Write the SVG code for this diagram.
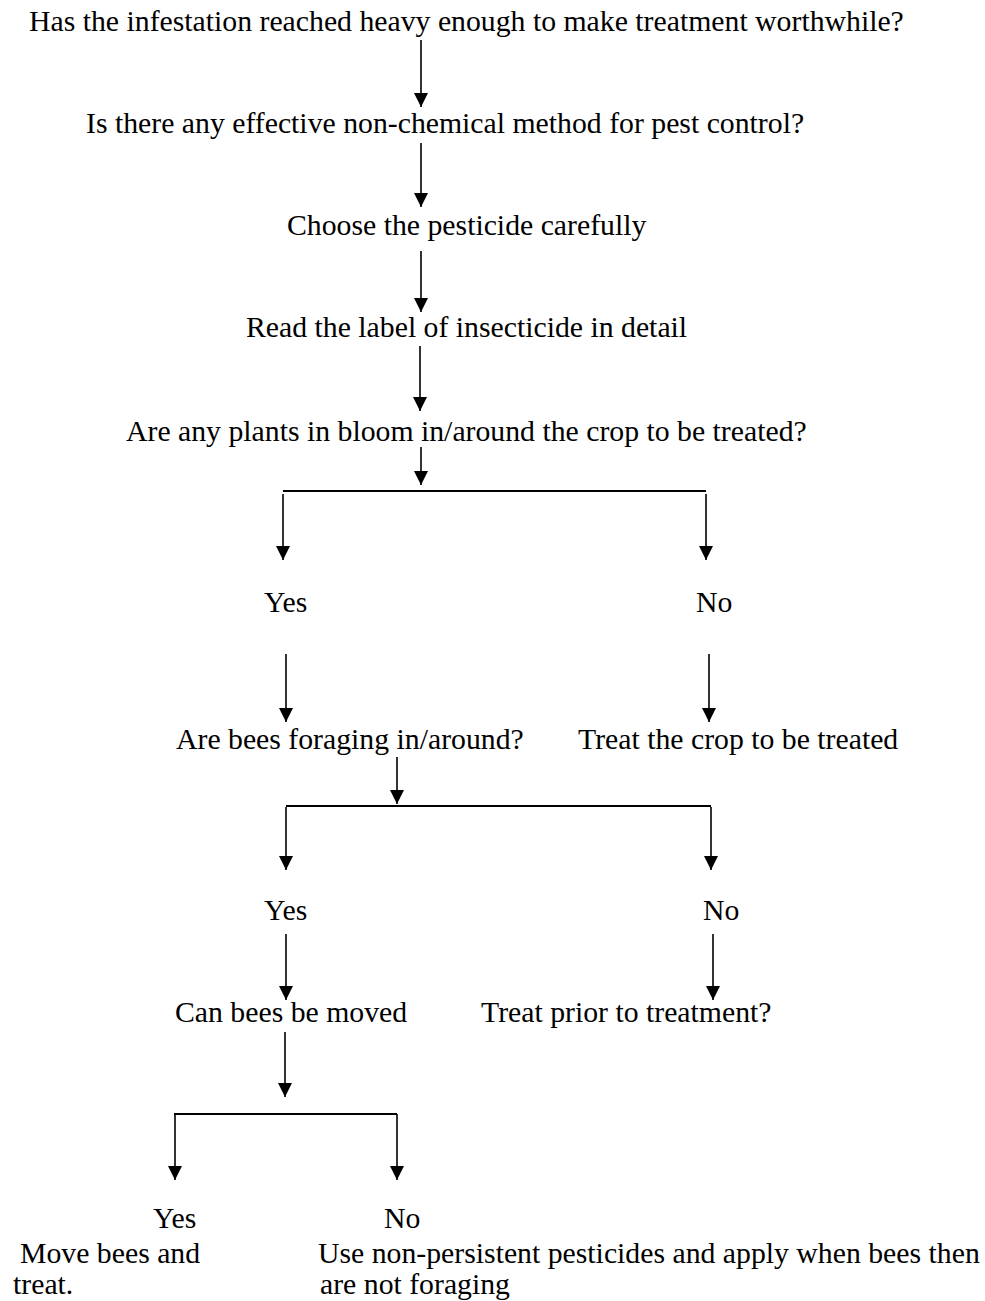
<svg xmlns="http://www.w3.org/2000/svg" width="985" height="1301" viewBox="0 0 985 1301">
<style>
text{font-family:"Liberation Serif","Times New Roman",serif;font-size:29.75px;fill:#000}
.c{stroke:#000;stroke-width:1.6;fill:none}
.h{stroke:#000;stroke-width:2;fill:none}
.a{marker-end:url(#ah)}
</style>
<defs>
<marker id="ah" viewBox="0 0 14 14" refX="14" refY="7" markerWidth="14" markerHeight="14" markerUnits="userSpaceOnUse" orient="auto">
<path d="M0,0 L14,7 L0,14 z" fill="#000"/>
</marker>
</defs>
<rect width="985" height="1301" fill="#fff"/>
<g id="connectors">
<line class="c a" x1="421" y1="40" x2="421" y2="107"/>
<line class="c a" x1="421" y1="143" x2="421" y2="207"/>
<line class="c a" x1="421" y1="251" x2="421" y2="312"/>
<line class="c a" x1="420" y1="346" x2="420" y2="411"/>
<line class="c a" x1="421" y1="447" x2="421" y2="485"/>
<line class="h" x1="283" y1="491" x2="706" y2="491"/>
<line class="c a" x1="283" y1="494" x2="283" y2="560"/>
<line class="c a" x1="706" y1="494" x2="706" y2="560"/>
<line class="c a" x1="286" y1="654" x2="286" y2="722"/>
<line class="c a" x1="709" y1="654" x2="709" y2="722"/>
<line class="c a" x1="397" y1="757" x2="397" y2="804"/>
<line class="h" x1="286" y1="806" x2="711" y2="806"/>
<line class="c a" x1="286" y1="807" x2="286" y2="870"/>
<line class="c a" x1="711" y1="807" x2="711" y2="870"/>
<line class="c a" x1="286" y1="934" x2="286" y2="1000"/>
<line class="c a" x1="713" y1="934" x2="713" y2="1000"/>
<line class="c a" x1="285" y1="1032" x2="285" y2="1097"/>
<line class="h" x1="174" y1="1114" x2="397" y2="1114"/>
<line class="c a" x1="175" y1="1114" x2="175" y2="1180"/>
<line class="c a" x1="397" y1="1114" x2="397" y2="1180"/>
</g>
<g id="n1"><text x="29" y="31">Has the infestation reached heavy enough to make treatment worthwhile?</text></g>
<g id="n2"><text x="86" y="133">Is there any effective non-chemical method for pest control?</text></g>
<g id="n3"><text x="287" y="235">Choose the pesticide carefully</text></g>
<g id="n4"><text x="246" y="337">Read the label of insecticide in detail</text></g>
<g id="n5"><text x="126" y="441">Are any plants in bloom in/around the crop to be treated?</text></g>
<g id="n6"><text x="264" y="612">Yes</text></g>
<g id="n7"><text x="696" y="612">No</text></g>
<g id="n8"><text x="176" y="749">Are bees foraging in/around?</text></g>
<g id="n9"><text x="578" y="749">Treat the crop to be treated</text></g>
<g id="n10"><text x="264" y="920">Yes</text></g>
<g id="n11"><text x="703" y="920">No</text></g>
<g id="n12"><text x="175" y="1022">Can bees be moved</text></g>
<g id="n13"><text x="481" y="1022">Treat prior to treatment?</text></g>
<g id="n14"><text x="153" y="1228">Yes</text></g>
<g id="n15"><text x="384" y="1228">No</text></g>
<g id="n16"><text x="20" y="1263">Move bees and</text><text x="13" y="1294">treat.</text></g>
<g id="n17"><text x="318" y="1263">Use non-persistent pesticides and apply when bees then</text><text x="320" y="1294">are not foraging</text></g>
</svg>
